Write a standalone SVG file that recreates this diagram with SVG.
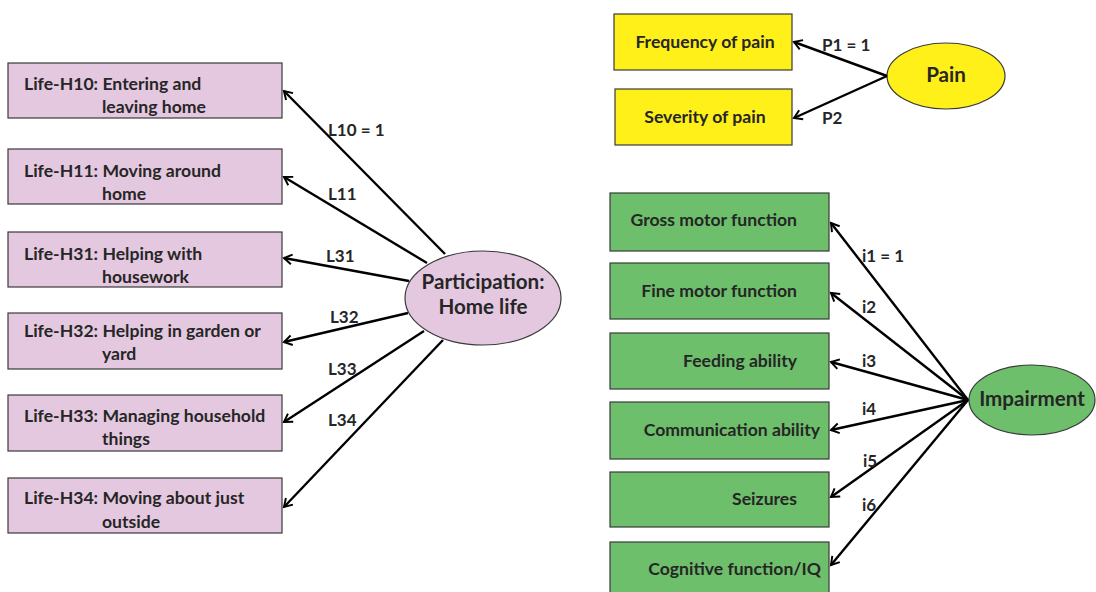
<svg xmlns="http://www.w3.org/2000/svg" width="1096" height="592" viewBox="0 0 1096 592">
  <defs>
    <style>
      text { font-family: Lato, "Open Sans", "Liberation Sans", sans-serif; font-weight: bold; fill: #262626; }
      .box { stroke: #3a3a3a; stroke-width: 1.2; }
      .pink { fill: #E4C8E0; }
      .yellow { fill: #FFF01A; }
      .green { fill: #6DBF6B; }
      .lbl { font-size: 17.6px; }
      .big { font-size: 20.6px; }
      .edge { font-size: 17px; }
      .conn line { stroke: #000; stroke-width: 2.4; marker-end: url(#arr); }
    </style>
    <marker id="arr" viewBox="0 0 12 14" refX="10.5" refY="7" markerWidth="9" markerHeight="10.5" markerUnits="userSpaceOnUse" orient="auto" overflow="visible">
      <path d="M0,0.5 L10.5,7 L0,13.5" fill="none" stroke="#000" stroke-width="2.6"/>
    </marker>
  </defs>
  <rect width="1096" height="592" fill="#fff"/>

  <!-- Participation: Home life indicators -->
  <g id="life-h10"><rect class="box pink" x="8" y="63" width="274" height="55"/>
    <text class="lbl" x="24" y="90">Life-H10: Entering and</text><text class="lbl" x="102" y="113">leaving home</text></g>
  <g id="life-h11"><rect class="box pink" x="8" y="149" width="274" height="55"/>
    <text class="lbl" x="24" y="177">Life-H11: Moving around</text><text class="lbl" x="102" y="200">home</text></g>
  <g id="life-h31"><rect class="box pink" x="8" y="232" width="274" height="55"/>
    <text class="lbl" x="24" y="260">Life-H31: Helping with</text><text class="lbl" x="102" y="283">housework</text></g>
  <g id="life-h32"><rect class="box pink" x="8" y="313" width="274" height="56"/>
    <text class="lbl" x="24" y="337">Life-H32: Helping in garden or</text><text class="lbl" x="102" y="360">yard</text></g>
  <g id="life-h33"><rect class="box pink" x="8" y="395" width="274" height="56"/>
    <text class="lbl" x="24" y="422">Life-H33: Managing household</text><text class="lbl" x="102" y="445">things</text></g>
  <g id="life-h34"><rect class="box pink" x="8" y="478" width="274" height="55"/>
    <text class="lbl" x="24" y="504">Life-H34: Moving about just</text><text class="lbl" x="102" y="528">outside</text></g>

  <g id="participation">
    <ellipse class="box pink" cx="483" cy="298" rx="78" ry="47"/>
    <text class="big" x="483" y="289" text-anchor="middle">Participation:</text>
    <text class="big" x="483" y="314" text-anchor="middle">Home life</text>
  </g>

  <!-- Pain -->
  <g id="freq-pain"><rect class="box yellow" x="614" y="14" width="178" height="56"/>
    <text class="lbl" x="705" y="48" text-anchor="middle">Frequency of pain</text></g>
  <g id="sev-pain"><rect class="box yellow" x="615" y="89" width="177" height="56"/>
    <text class="lbl" x="705" y="123" text-anchor="middle">Severity of pain</text></g>
  <g id="pain">
    <ellipse class="box yellow" cx="946" cy="76" rx="59" ry="33"/>
    <text class="big" x="946" y="82" text-anchor="middle">Pain</text>
  </g>

  <!-- Impairment indicators -->
  <g id="gross-motor"><rect class="box green" x="610" y="193" width="219" height="58"/>
    <text class="lbl" x="797" y="226" text-anchor="end">Gross motor function</text></g>
  <g id="fine-motor"><rect class="box green" x="610" y="263" width="219" height="56"/>
    <text class="lbl" x="797" y="297" text-anchor="end">Fine motor function</text></g>
  <g id="feeding"><rect class="box green" x="610" y="333" width="219" height="56"/>
    <text class="lbl" x="797" y="367" text-anchor="end">Feeding ability</text></g>
  <g id="communication"><rect class="box green" x="610" y="402" width="219" height="57"/>
    <text class="lbl" x="820" y="436" text-anchor="end">Communication ability</text></g>
  <g id="seizures"><rect class="box green" x="610" y="472" width="219" height="55"/>
    <text class="lbl" x="797" y="505" text-anchor="end">Seizures</text></g>
  <g id="cognitive"><rect class="box green" x="610" y="542" width="219" height="60"/>
    <text class="lbl" x="821" y="575" text-anchor="end">Cognitive function/IQ</text></g>
  <g id="impairment">
    <ellipse class="box green" cx="1032" cy="400" rx="63" ry="35"/>
    <text class="big" x="1032" y="406" text-anchor="middle">Impairment</text>
  </g>

  <!-- Loadings -->
  <g id="connectors" class="conn">
    <line x1="445" y1="254" x2="284" y2="91"/>
    <line x1="427" y1="263" x2="284" y2="177"/>
    <line x1="409" y1="281" x2="284" y2="258"/>
    <line x1="408" y1="313" x2="284" y2="342"/>
    <line x1="424" y1="331" x2="284" y2="422"/>
    <line x1="443" y1="340" x2="284" y2="507"/>

    <line x1="887" y1="76" x2="794" y2="42"/>
    <line x1="887" y1="76" x2="794" y2="118"/>

    <line x1="968" y1="400" x2="831" y2="223"/>
    <line x1="968" y1="400" x2="831" y2="293"/>
    <line x1="968" y1="400" x2="831" y2="362"/>
    <line x1="968" y1="400" x2="831" y2="430"/>
    <line x1="968" y1="400" x2="831" y2="497"/>
    <line x1="968" y1="400" x2="831" y2="565"/>
  </g>

  <g id="loading-labels">
    <text class="edge" x="328" y="136">L10 = 1</text>
    <text class="edge" x="328" y="200">L11</text>
    <text class="edge" x="326" y="262">L31</text>
    <text class="edge" x="330" y="323">L32</text>
    <text class="edge" x="328" y="375">L33</text>
    <text class="edge" x="328" y="426">L34</text>
    <text class="edge" x="822" y="51">P1 = 1</text>
    <text class="edge" x="822" y="124">P2</text>
    <text class="edge" x="862" y="262">i1 = 1</text>
    <text class="edge" x="862" y="313">i2</text>
    <text class="edge" x="862" y="367">i3</text>
    <text class="edge" x="862" y="415">i4</text>
    <text class="edge" x="863" y="467">i5</text>
    <text class="edge" x="862" y="511">i6</text>
  </g>
</svg>
